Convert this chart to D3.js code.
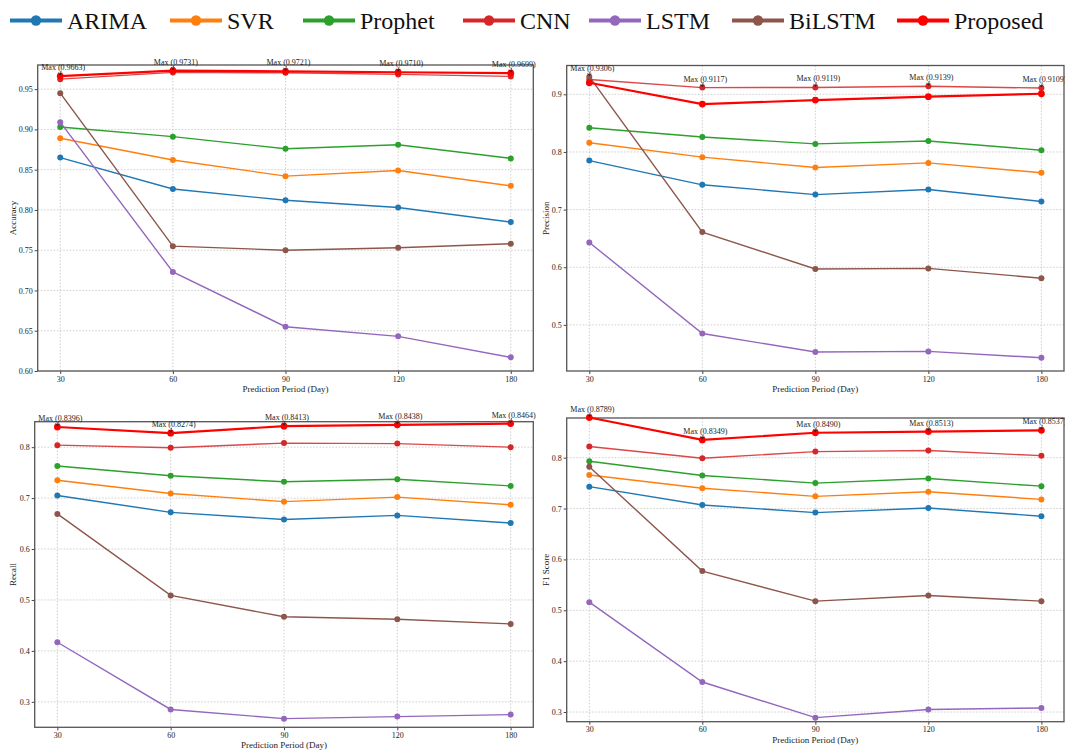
<!DOCTYPE html>
<html>
<head>
<meta charset="utf-8">
<script src="https://cdn.jsdelivr.net/npm/d3@7"></script>
<style>
  body { margin: 0; background: #fff; }
  svg { display: block; font-family: "Liberation Serif", "DejaVu Serif", serif; }
  .tick text { font-size: 8px; fill: #222; }
  .tick line { stroke: #444; }
</style>
</head>
<body>
<svg id="chart" width="1065" height="752"></svg>
<script>
// prediction periods (equally spaced categories)
const periods = ["30", "60", "90", "120", "180"];
const models = ["ARIMA", "SVR", "Prophet", "CNN", "LSTM", "BiLSTM", "Proposed"];
const colors = ["#1f77b4", "#ff7f0e", "#2ca02c", "#d62728", "#9467bd", "#8c564b", "#ff0000"];

// values per model, same order as models
const accuracy = [
  [0.865, 0.826, 0.812, 0.803, 0.785],
  [0.889, 0.862, 0.842, 0.849, 0.830],
  [0.903, 0.891, 0.876, 0.881, 0.864],
  [0.9624, 0.9708, 0.9703, 0.9683, 0.9658],
  [0.909, 0.723, 0.655, 0.643, 0.617],
  [0.945, 0.755, 0.750, 0.753, 0.758],
  [0.9663, 0.9731, 0.9721, 0.9710, 0.9699]
];
const precision = [
  [0.785, 0.743, 0.726, 0.735, 0.714],
  [0.816, 0.791, 0.773, 0.781, 0.764],
  [0.842, 0.826, 0.814, 0.819, 0.803],
  [0.9258, 0.9117, 0.9119, 0.9139, 0.9109],
  [0.643, 0.485, 0.453, 0.454, 0.443],
  [0.9306, 0.661, 0.597, 0.598, 0.581],
  [0.920, 0.883, 0.890, 0.896, 0.901]
];
const recall = [
  [0.705, 0.672, 0.658, 0.666, 0.651],
  [0.735, 0.709, 0.693, 0.702, 0.687],
  [0.763, 0.744, 0.732, 0.737, 0.724],
  [0.804, 0.799, 0.808, 0.807, 0.800],
  [0.417, 0.285, 0.267, 0.271, 0.275],
  [0.669, 0.509, 0.467, 0.462, 0.453],
  [0.8396, 0.8274, 0.8413, 0.8438, 0.8464]
];
const f1 = [
  [0.743, 0.707, 0.692, 0.701, 0.685],
  [0.766, 0.740, 0.724, 0.733, 0.718],
  [0.793, 0.765, 0.750, 0.759, 0.744],
  [0.822, 0.799, 0.812, 0.814, 0.804],
  [0.516, 0.359, 0.289, 0.305, 0.308],
  [0.782, 0.577, 0.518, 0.529, 0.518],
  [0.8789, 0.8349, 0.8490, 0.8513, 0.8537]
];

const accuracyTicks = [0.60, 0.65, 0.70, 0.75, 0.80, 0.85, 0.90, 0.95];
const precisionTicks = [0.5, 0.6, 0.7, 0.8, 0.9];
const recallTicks = [0.3, 0.4, 0.5, 0.6, 0.7, 0.8];
const f1Ticks = [0.3, 0.4, 0.5, 0.6, 0.7, 0.8];

const svg = d3.select("#chart");

// panel frames
const panels = [
  {label: "Accuracy", data: accuracy, ticks: accuracyTicks, fmt: ".2f", domain: [0.60, 0.98], box: [37.7, 65, 533.3, 371], ylabX: 13},
  {label: "Precision", data: precision, ticks: precisionTicks, fmt: ".1f", domain: [0.42, 0.95], box: [566.7, 65.5, 1064, 371], ylabX: 546},
  {label: "Recall", data: recall, ticks: recallTicks, fmt: ".1f", domain: [0.25, 0.85], box: [34.7, 421.7, 533.3, 727.3], ylabX: 13},
  {label: "F1 Score", data: f1, ticks: f1Ticks, fmt: ".1f", domain: [0.281, 0.878], box: [566.7, 418, 1064, 721.7], ylabX: 546}
];

panels.forEach(p => {
  const [l, t, r, b] = p.box;
  const x = d3.scalePoint().domain(periods).range([l, r]).padding(0.2);
  const y = d3.scaleLinear().domain(p.domain).range([b, t]);
  const g = svg.append("g");

  // grid
  g.append("g").selectAll("line").data(p.ticks).join("line")
    .attr("x1", l).attr("x2", r).attr("y1", d => y(d)).attr("y2", d => y(d))
    .attr("stroke", "#c4c4c4").attr("stroke-width", 0.8).attr("stroke-dasharray", "1.6,1.6");
  g.append("g").selectAll("line").data(periods).join("line")
    .attr("x1", d => x(d)).attr("x2", d => x(d)).attr("y1", t).attr("y2", b)
    .attr("stroke", "#c4c4c4").attr("stroke-width", 0.8).attr("stroke-dasharray", "1.6,1.6");

  // axes
  const ax = g.append("g").attr("transform", `translate(0,${b})`)
    .call(d3.axisBottom(x).tickSize(3).tickPadding(2))
    .attr("font-family", null);
  ax.select(".domain").remove();
  const ay = g.append("g").attr("transform", `translate(${l},0)`)
    .call(d3.axisLeft(y).tickValues(p.ticks).tickFormat(d3.format(p.fmt)).tickSize(3).tickPadding(2))
    .attr("font-family", null);
  ay.select(".domain").remove();

  // frame
  g.append("rect").attr("x", l).attr("y", t).attr("width", r - l).attr("height", b - t)
    .attr("fill", "none").attr("stroke", "#555").attr("stroke-width", 1.3);

  // axis labels
  g.append("text").attr("x", (l + r) / 2).attr("y", b + 21)
    .attr("text-anchor", "middle").attr("font-size", 9).attr("fill", "#222")
    .text("Prediction Period (Day)");
  g.append("text").attr("transform", `translate(${p.ylabX},${(t + b) / 2}) rotate(-90)`)
    .attr("text-anchor", "middle").attr("dy", "0.35em").attr("font-size", 9).attr("fill", "#222")
    .text(p.label);

  // series
  const line = d3.line().x((d, i) => x(periods[i])).y(d => y(d));
  p.data.forEach((vals, k) => {
    const isProp = models[k] === "Proposed";
    const s = g.append("g");
    s.append("path").datum(vals).attr("d", line)
      .attr("fill", "none").attr("stroke", colors[k])
      .attr("stroke-width", isProp ? 2.2 : 1.4)
      .attr("stroke-opacity", models[k] === "CNN" ? 0.85 : 1);
    s.selectAll("circle").data(vals).join("circle")
      .attr("cx", (d, i) => x(periods[i])).attr("cy", d => y(d))
      .attr("r", isProp ? 3.4 : 3).attr("fill", colors[k]);
  });

  // max annotations
  periods.forEach((per, i) => {
    const mx = d3.max(p.data, v => v[i]);
    const px = x(per), py = y(mx);
    g.append("text").attr("x", px + 3).attr("y", py - 6)
      .attr("text-anchor", "middle").attr("font-size", 8).attr("fill", "#222")
      .text(`Max (${mx.toFixed(4)})`);
    g.append("path")
      .attr("d", `M${px + 1},${py - 5.5}L${px},${py - 1}M${px - 1.8},${py - 3.6}L${px},${py - 1}L${px + 1.8},${py - 3.4}`)
      .attr("fill", "none").attr("stroke", "#222").attr("stroke-width", 0.7);
  });
});

// legend
const legendX = [10, 170, 303, 463, 589, 732, 897];
const lg = svg.append("g").attr("transform", "translate(0,20.5)");
models.forEach((m, k) => {
  const it = lg.append("g").attr("transform", `translate(${legendX[k]},0)`);
  it.append("line").attr("x1", 0).attr("x2", 52).attr("stroke", colors[k]).attr("stroke-width", 4);
  it.append("circle").attr("cx", 26).attr("r", 5.2).attr("fill", colors[k]);
  it.append("text").attr("x", 57).attr("dy", "0.35em")
    .attr("font-family", "'Liberation Serif', 'DejaVu Serif', serif")
    .attr("font-size", 24).attr("fill", "#111").text(m);
});
</script>
</body>
</html>
